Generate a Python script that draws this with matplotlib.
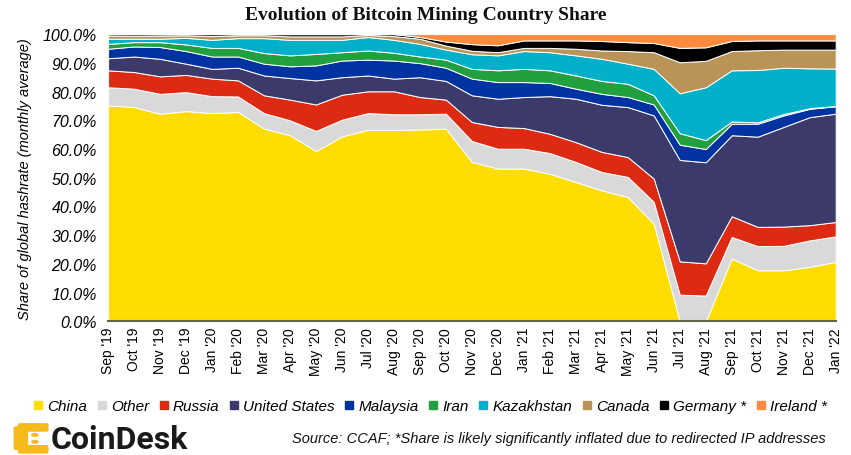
import matplotlib
matplotlib.use("Agg")
import matplotlib.pyplot as plt
import numpy as np
from matplotlib.lines import Line2D
from matplotlib.patches import FancyBboxPatch, Circle

# monthly share of global hashrate (%), Sep '19 .. Jan '22
MONTHS = ["Sep '19", "Oct '19", "Nov '19", "Dec '19",
          "Jan '20", "Feb '20", "Mar '20", "Apr '20", "May '20", "Jun '20",
          "Jul '20", "Aug '20", "Sep '20", "Oct '20", "Nov '20", "Dec '20",
          "Jan '21", "Feb '21", "Mar '21", "Apr '21", "May '21", "Jun '21",
          "Jul '21", "Aug '21", "Sep '21", "Oct '21", "Nov '21", "Dec '21",
          "Jan '22"]

china = [75.2, 74.6, 72.3, 73.2, 72.5, 72.9, 67.1, 64.8, 59.3, 64.4,
         66.7, 66.7, 66.8, 67.1, 55.5, 53.2, 53.2, 51.4, 48.5, 45.6,
         43.3, 34.0, 0.0, 0.0, 21.9, 17.8, 17.8, 19.0, 20.7]
other = [6.3, 6.4, 6.9, 6.6, 5.9, 5.4, 5.4, 5.2, 7.0, 5.8,
         5.8, 5.4, 5.3, 5.2, 7.3, 6.9, 6.9, 7.2, 7.0, 6.4,
         7.0, 7.6, 9.3, 9.0, 7.5, 8.4, 8.5, 9.2, 8.9]
russia = [5.9, 5.8, 6.1, 6.0, 6.1, 5.6, 6.2, 7.2, 9.2, 8.7,
          7.6, 8.0, 6.0, 4.9, 6.6, 7.6, 7.2, 6.7, 6.9, 7.0,
          6.9, 8.1, 11.6, 11.2, 7.2, 6.7, 6.7, 5.3, 5.0]
usa = [4.2, 5.4, 6.1, 3.9, 3.4, 4.4, 6.9, 7.5, 8.4, 6.1,
       5.5, 4.4, 6.9, 6.5, 9.3, 9.8, 10.8, 13.1, 15.1, 16.4,
       17.4, 22.0, 35.3, 35.2, 28.2, 31.4, 34.7, 37.6, 37.7]
malaysia = [3.3, 3.5, 4.1, 4.4, 4.3, 3.9, 4.1, 4.1, 5.2, 5.8,
            5.5, 6.3, 4.9, 4.6, 5.8, 5.8, 5.2, 4.6, 3.5, 3.8,
            3.5, 3.8, 5.3, 4.6, 4.0, 4.5, 4.0, 2.9, 2.6]
iran = [1.7, 1.5, 1.7, 2.3, 3.0, 3.0, 3.7, 3.8, 4.0, 2.9,
        3.2, 2.7, 2.3, 2.8, 3.4, 4.1, 4.6, 4.4, 4.6, 4.5,
        4.6, 3.2, 4.0, 3.1, 0.8, 0.5, 0.5, 0.2, 0.1]
kazakhstan = [1.8, 1.2, 1.2, 2.3, 2.8, 3.4, 5.2, 5.4, 4.9, 4.3,
              4.7, 4.5, 4.4, 3.5, 5.1, 5.2, 6.2, 6.3, 7.0, 7.7,
              7.0, 9.2, 13.9, 18.4, 17.8, 18.2, 16.1, 13.9, 13.0]
canada = [1.1, 1.0, 1.1, 0.9, 1.3, 1.0, 1.0, 1.2, 1.2, 1.2,
          0.7, 1.3, 1.8, 1.4, 1.2, 1.1, 1.1, 1.5, 2.3, 2.9,
          4.4, 5.8, 10.8, 9.2, 6.7, 6.9, 6.3, 6.5, 6.6]
germany = [0.5, 0.6, 0.5, 0.4, 0.7, 0.4, 0.4, 0.8, 0.8, 0.8,
           0.3, 0.7, 0.6, 1.4, 2.3, 2.4, 2.6, 2.6, 2.9, 3.3,
           3.1, 3.2, 5.0, 4.7, 3.5, 3.4, 3.2, 3.2, 3.2]
ireland = [0, 0, 0, 0, 0, 0, 0, 0, 0, 0,
           0, 0, 1.0, 2.6, 3.5, 3.9, 2.2, 2.2, 2.2, 2.4,
           2.8, 3.1, 4.8, 4.6, 2.4, 2.2, 2.2, 2.2, 2.2]

NAMES = ["China", "Other", "Russia", "United States", "Malaysia", "Iran",
         "Kazakhstan", "Canada", "Germany *", "Ireland *"]
COLORS = ["#FFDD00", "#D9D9D9", "#DD2A12", "#3C3A6A", "#0033A1", "#22A03F",
          "#00AFC8", "#B99456", "#000000", "#FF8A3D"]

SANS = "Liberation Sans"

fig = plt.figure(figsize=(8.51, 4.56), dpi=100)
ax = fig.add_axes([0.127, 0.293, 0.855, 0.630])

x = np.arange(len(MONTHS))
series = [china, other, russia, usa, malaysia, iran, kazakhstan, canada, germany, ireland]
ax.stackplot(x, *series, colors=COLORS, edgecolor="white", linewidth=0.7)

ax.set_xlim(0, len(MONTHS) - 1)
ax.set_ylim(0, 100)
ax.set_xticks(x)
ax.set_xticklabels(MONTHS, rotation=90, fontsize=10, family=SANS)
ax.set_yticks(np.arange(0, 101, 10))
ax.set_yticklabels([f"{v:.1f}%" for v in range(0, 101, 10)],
                   fontsize=11.5, family=SANS, style="italic")
ax.tick_params(length=0, pad=4)
ax.tick_params(axis="y", pad=8)
for s in ["top", "right", "left"]:
    ax.spines[s].set_visible(False)
ax.spines["bottom"].set_color("#66664f")
ax.spines["bottom"].set_linewidth(1.5)
ax.set_ylabel("Share of global hashrate (monthly average)", fontsize=10.5,
              family=SANS, style="italic", labelpad=8)

fig.text(0.5, 0.967, "Evolution of Bitcoin Mining Country Share", ha="center", va="center",
         fontsize=14, fontweight="bold", family="Liberation Serif", color="#111111")

handles = [Line2D([], [], marker="s", linestyle="none", markersize=6,
                  markerfacecolor=c, markeredgecolor=c) for c in COLORS]
fig.legend(handles, NAMES, loc="center", bbox_to_anchor=(0.506, 0.107), ncol=10,
           frameon=False, handlelength=0.5, handletextpad=0.35, columnspacing=0.7,
           prop={"family": SANS, "style": "italic", "size": 11})

fig.text(0.97, 0.038, "Source: CCAF; *Share is likely significantly inflated due to redirected IP addresses",
         ha="right", va="center", fontsize=10.5, family=SANS, style="italic", color="#111111")

# CoinDesk mark
yel = "#F6BB1A"
for (bx, by, bw, bh) in [(0.019, 0.014, 0.011, 0.046), (0.024, 0.054, 0.030, 0.013),
                         (0.024, 0.006, 0.030, 0.013)]:
    fig.patches.append(FancyBboxPatch((bx, by), bw, bh, boxstyle="round,pad=0.003",
                                      transform=fig.transFigure, facecolor=yel, edgecolor="none"))
for (cx, cy) in [(0.041, 0.044), (0.041, 0.029)]:
    fig.patches.append(Circle((cx, cy), 0.0045, transform=fig.transFigure, facecolor=yel))
fig.text(0.060, 0.036, "CoinDesk", ha="left", va="center", fontsize=23, fontweight="bold",
         family="Roboto", color="#1a1a1a")

fig.savefig("out.png", dpi=100)
